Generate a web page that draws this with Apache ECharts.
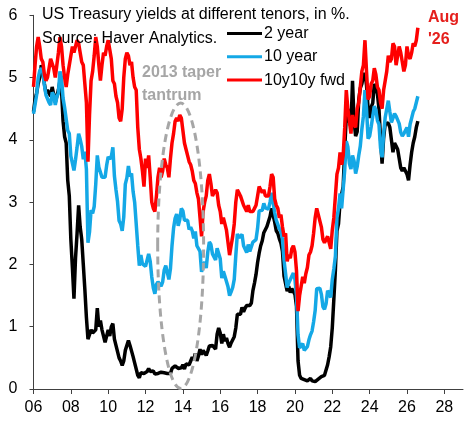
<!DOCTYPE html>
<html><head><meta charset="utf-8">
<script src="https://cdn.jsdelivr.net/npm/echarts@6/dist/echarts.min.js"></script>
<style>html,body{margin:0;padding:0;background:#fff}#c{width:470px;height:425px}</style>
</head><body><div id="c"></div>
<script>
// Monthly values, Jan 2006 .. Aug 2026
const startYear = 2006;
const seriesNames = ['2 year', '10 year', '10y10y fwd'];
const y2 = [
 4.45,4.65,4.75,4.9,5.0,5.2,5.1,4.9,4.75,4.8,4.75,4.7,
 4.85,4.85,4.6,4.7,4.8,4.95,4.8,4.3,4.05,3.95,3.35,3.1,
 2.4,1.95,1.45,2.1,2.5,2.95,2.6,2.4,2.0,1.6,1.15,0.8,
 0.8,0.95,0.9,0.9,0.95,1.3,1.0,1.1,0.95,0.95,0.75,0.85,
 0.95,0.85,1.0,1.05,0.8,0.7,0.6,0.5,0.45,0.38,0.45,0.62,
 0.6,0.78,0.7,0.7,0.52,0.42,0.4,0.22,0.18,0.26,0.25,0.25,
 0.24,0.28,0.33,0.28,0.28,0.29,0.24,0.26,0.25,0.28,0.27,0.26,
 0.26,0.26,0.25,0.23,0.25,0.33,0.34,0.37,0.4,0.33,0.3,0.34,
 0.39,0.32,0.4,0.42,0.39,0.45,0.51,0.47,0.57,0.45,0.53,0.64,
 0.55,0.62,0.64,0.54,0.61,0.69,0.67,0.7,0.71,0.64,0.88,0.98,
 0.9,0.73,0.88,0.77,0.82,0.73,0.67,0.74,0.77,0.84,0.98,1.2,
 1.21,1.2,1.31,1.24,1.3,1.34,1.37,1.34,1.38,1.58,1.7,1.84,
 2.03,2.18,2.3,2.38,2.51,2.53,2.61,2.64,2.77,2.9,2.9,2.68,
 2.54,2.5,2.41,2.34,2.21,1.81,1.84,1.57,1.65,1.55,1.61,1.61,
 1.52,1.33,0.45,0.22,0.17,0.19,0.15,0.14,0.13,0.14,0.17,0.13,
 0.13,0.12,0.15,0.16,0.16,0.2,0.22,0.22,0.24,0.39,0.52,0.68,
 0.98,1.44,1.91,2.54,2.65,3.0,3.02,3.25,3.86,4.38,4.5,4.29,
 4.21,4.95,4.3,4.06,4.13,4.64,4.83,4.9,5.03,5.07,4.88,4.51,
 4.35,4.53,4.59,4.9,4.87,4.74,4.5,4.03,3.62,4.03,4.26,4.23,
 4.27,4.2,4.0,3.8,3.95,3.9,3.85,3.7,3.55,3.5,3.55,3.5,
 3.45,3.35,3.6,3.8,3.95,4.05,4.2,4.3
];
const y10 = [
 4.42,4.57,4.72,4.99,5.11,5.15,5.09,4.88,4.72,4.73,4.6,4.56,
 4.76,4.72,4.56,4.69,4.75,5.1,5.0,4.67,4.52,4.53,4.15,4.1,
 3.74,3.74,3.51,3.68,3.88,4.1,4.01,3.89,3.69,3.81,3.53,2.35,
 2.52,2.87,2.82,2.93,3.29,3.75,3.56,3.59,3.4,3.39,3.4,3.59,
 3.73,3.69,3.73,3.88,3.42,3.2,3.01,2.7,2.65,2.54,2.76,3.29,
 3.39,3.58,3.41,3.46,3.17,3.0,3.0,2.3,1.98,2.15,2.01,1.98,
 1.97,1.97,2.17,2.05,1.8,1.62,1.53,1.68,1.72,1.75,1.65,1.72,
 1.91,1.98,1.96,1.76,1.93,2.3,2.58,2.74,2.81,2.62,2.72,2.9,
 2.86,2.71,2.72,2.71,2.56,2.6,2.54,2.42,2.53,2.3,2.33,2.21,
 1.88,1.98,2.04,1.94,2.2,2.36,2.32,2.17,2.17,2.07,2.26,2.24,
 2.09,1.78,1.89,1.81,1.81,1.64,1.5,1.56,1.63,1.76,2.14,2.49,
 2.43,2.42,2.48,2.3,2.3,2.19,2.32,2.21,2.2,2.36,2.35,2.4,
 2.58,2.86,2.84,2.87,2.98,2.91,2.89,2.89,3.0,3.15,3.12,2.83,
 2.71,2.68,2.57,2.53,2.4,2.07,2.06,1.63,1.7,1.71,1.81,1.86,
 1.76,1.5,0.87,0.66,0.67,0.73,0.62,0.65,0.68,0.79,0.87,0.93,
 1.08,1.26,1.61,1.64,1.62,1.52,1.32,1.28,1.37,1.58,1.56,1.47,
 1.76,1.93,2.13,2.75,2.9,3.14,2.9,2.9,3.52,3.98,3.89,3.62,
 3.53,3.75,3.66,3.46,3.57,3.75,3.9,4.17,4.38,4.8,4.5,4.02,
 4.06,4.21,4.21,4.54,4.48,4.31,4.25,3.87,3.72,4.1,4.36,4.39,
 4.63,4.45,4.28,4.28,4.42,4.38,4.39,4.26,4.12,4.06,4.1,4.15,
 4.2,4.05,4.25,4.35,4.45,4.5,4.6,4.7
];
const fwd = [
 4.85,5.2,5.5,5.65,5.5,5.3,5.25,5.05,4.95,5.0,5.15,5.3,
 5.3,5.15,5.0,5.2,5.4,5.65,5.5,5.2,5.0,4.85,5.05,5.2,
 5.35,5.5,5.4,5.5,5.6,5.55,5.4,5.25,5.2,4.9,4.6,3.65,
 4.4,4.95,5.1,5.35,5.65,5.5,5.2,4.95,5.2,5.4,5.35,5.5,
 5.6,5.45,5.3,4.95,4.9,4.7,4.6,4.35,4.3,4.5,5.0,5.3,
 5.4,5.35,5.2,5.25,5.0,4.85,4.8,4.2,3.85,3.7,3.5,3.25,
 3.7,3.55,3.75,3.4,3.0,2.9,2.85,3.1,3.4,3.55,3.4,3.5,
 3.7,3.6,3.55,3.4,3.7,3.95,4.1,4.3,4.35,4.3,4.4,4.35,
 4.15,3.95,3.85,3.75,3.65,3.6,3.5,3.35,3.3,3.15,3.05,2.75,
 2.45,2.85,3.0,3.1,3.35,3.45,3.3,3.1,3.15,3.2,3.15,2.95,
 2.85,2.65,2.75,2.65,2.55,2.35,2.15,2.3,2.45,2.65,3.0,3.2,
 3.15,3.1,3.1,2.95,2.95,2.85,2.95,2.85,2.85,2.85,2.9,2.95,
 3.1,3.25,3.2,3.15,3.2,3.1,3.1,3.1,3.25,3.45,3.4,3.05,
 2.95,2.9,2.75,2.8,2.6,2.45,2.5,2.05,2.15,2.1,2.25,2.3,
 2.2,1.9,1.25,1.5,1.65,1.8,1.7,1.85,1.95,2.15,2.2,2.3,
 2.5,2.75,2.9,2.8,2.8,2.6,2.4,2.35,2.4,2.45,2.35,2.25,
 2.55,2.75,3.1,3.45,3.55,3.8,3.6,3.75,4.2,4.8,4.5,4.3,
 4.1,4.4,4.25,4.2,4.5,4.6,4.85,5.1,5.2,5.6,5.1,4.65,
 4.7,4.9,4.95,5.15,5.05,4.85,4.8,4.6,4.5,4.8,4.95,5.1,
 5.35,5.25,5.3,5.55,5.5,5.2,5.35,5.5,5.4,5.25,5.1,5.2,
 5.5,5.35,5.3,5.4,5.55,5.5,5.6,5.8
];
// taper tantrum ellipse: centre (year, %) and radii (years, %)
const taperEllipse = [2013.88, 2.3, 1.23, 2.29];

const FONT = '"Liberation Sans", Arial, sans-serif';
const toPoints = arr => arr.map((v, i) => [startYear + i / 12, v]);

const chart = echarts.init(document.getElementById('c'), null, {renderer: 'canvas'});
chart.setOption({
  animation: false,
  backgroundColor: '#fff',
  grid: {left: 33.5, right: 7, top: 15.3, bottom: 36, containLabel: false},
  xAxis: {
    type: 'value', min: 2006, max: 2029, interval: 2,
    splitLine: {show: false},
    axisLine: {show: true, lineStyle: {color: '#404040', width: 1}},
    axisTick: {show: true, length: 5, lineStyle: {color: '#404040'}},
    axisLabel: {
      margin: 11, color: '#000', fontSize: 16, fontFamily: FONT, showMaxLabel: false,
      formatter: v => (Math.abs(v - Math.round(v)) < 1e-6 && Math.round(v) % 2 === 0) ? String(Math.round(v) % 100).padStart(2, '0') : ''
    }
  },
  yAxis: {
    type: 'value', min: 0, max: 6, interval: 1,
    splitLine: {show: false},
    axisLine: {show: true, lineStyle: {color: '#404040', width: 1}},
    axisTick: {show: true, length: 4, lineStyle: {color: '#404040'}},
    axisLabel: {margin: 16, color: '#000', fontSize: 16, fontFamily: FONT}
  },
  legend: {
    orient: 'vertical', left: 227, top: 25.5, padding: 0,
    itemWidth: 35, itemHeight: 3, itemGap: 7.3, icon: 'rect',
    data: seriesNames,
    textStyle: {fontSize: 16, fontFamily: FONT, color: '#000', padding: [0, 0, 0, -3]}
  },
  series: [
    {name: seriesNames[0], type: 'line', color: '#000000', showSymbol: false, z: 2,
     lineStyle: {width: 3.5}, data: toPoints(y2)},
    {name: seriesNames[1], type: 'line', color: '#14a8e6', showSymbol: false, z: 3,
     lineStyle: {width: 3.5}, data: toPoints(y10)},
    {name: seriesNames[2], type: 'line', color: '#ff0000', showSymbol: false, z: 4,
     lineStyle: {width: 3.5}, data: toPoints(fwd)},
    {name: 'taper', type: 'custom', silent: true, z: 6, clip: false,
     data: [taperEllipse], encode: {x: 0, y: 1},
     renderItem: (params, api) => {
       const c = api.coord([api.value(0), api.value(1)]);
       const s = api.size([api.value(2), api.value(3)]);
       return {type: 'ellipse', shape: {cx: c[0], cy: c[1], rx: s[0], ry: s[1]},
               style: {fill: null, stroke: '#a6a6a6', lineWidth: 3, lineDash: [8, 5]}};
     }}
  ],
  graphic: [
    {type: 'text', x: 42, y: 15, z: 100, style: {text: 'US Treasury yields at different tenors, in %.', font: '16px ' + FONT, fill: '#000', verticalAlign: 'middle'}},
    {type: 'text', x: 42, y: 39, z: 100, style: {text: 'Source: Haver Analytics.', font: '16px ' + FONT, fill: '#000', verticalAlign: 'middle'}},
    {type: 'text', x: 142, y: 72.5, z: 100, style: {text: '2013 taper', font: 'bold 16px ' + FONT, fill: '#a6a6a6', verticalAlign: 'middle'}},
    {type: 'text', x: 142, y: 95.5, z: 100, style: {text: 'tantrum', font: 'bold 16px ' + FONT, fill: '#a6a6a6', verticalAlign: 'middle'}},
    {type: 'text', x: 428, y: 17.5, z: 100, style: {text: 'Aug', font: 'bold 16px ' + FONT, fill: '#e5201d', verticalAlign: 'middle'}},
    {type: 'text', x: 428, y: 40, z: 100, style: {text: "'26", font: 'bold 16px ' + FONT, fill: '#e5201d', verticalAlign: 'middle'}}
  ]
});
</script></body></html>
